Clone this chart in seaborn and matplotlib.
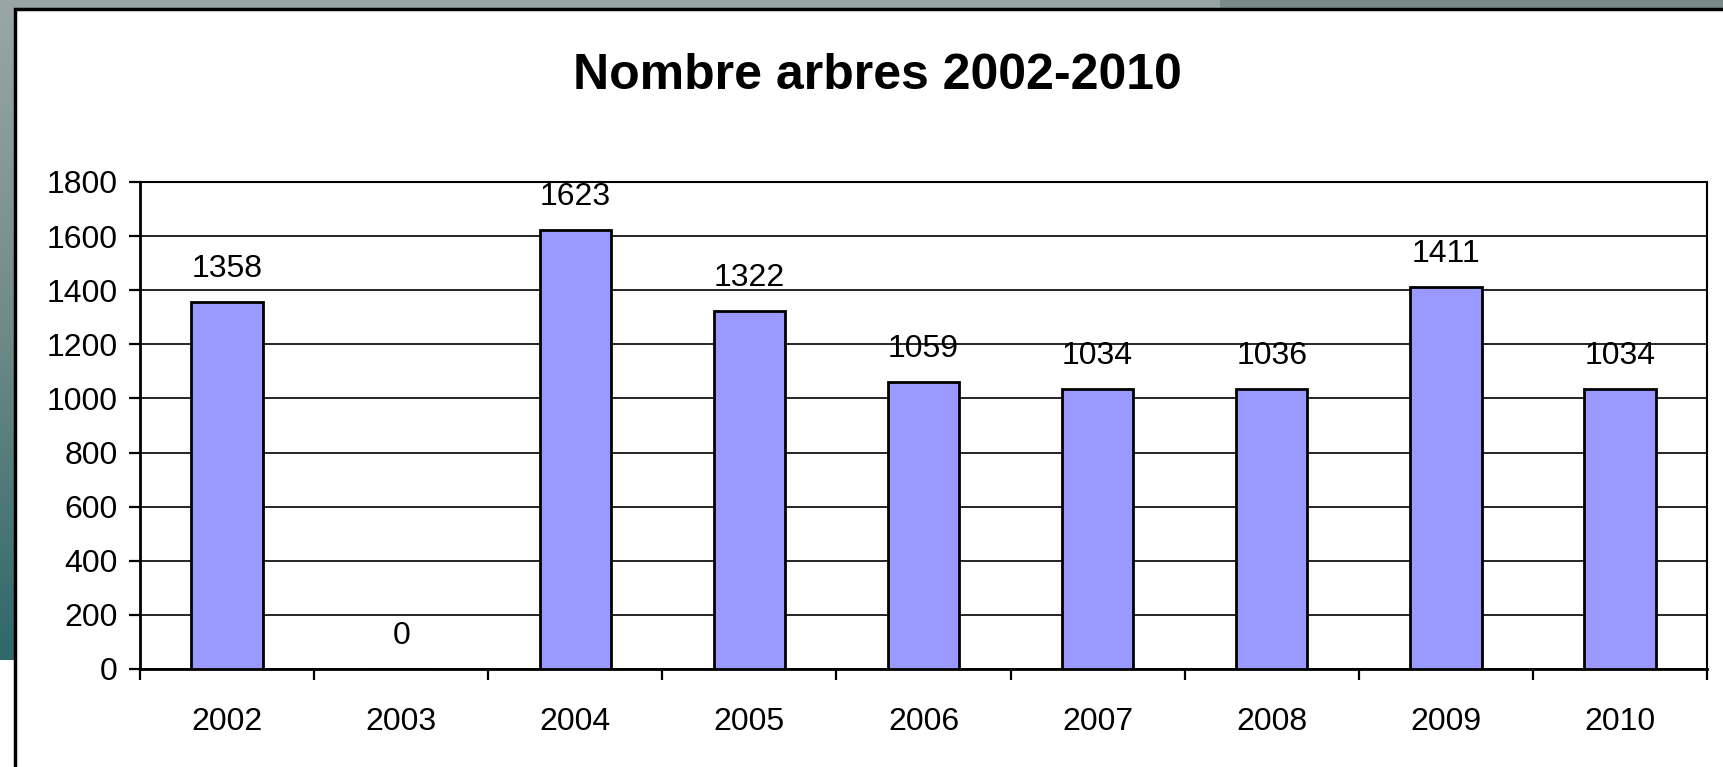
import matplotlib
matplotlib.use("Agg")
import matplotlib.pyplot as plt
import numpy as np
import pandas as pd
import seaborn as sns
from matplotlib.patches import Rectangle

YEARS = ["2002", "2003", "2004", "2005", "2006", "2007", "2008", "2009", "2010"]
TREES = [1358, 0, 1623, 1322, 1059, 1034, 1036, 1411, 1034]
Y_TICKS = list(range(0, 1801, 200))
TITLE = "Nombre arbres 2002-2010"

BAR_COLOR = "#9999ff"

sns.set_style("white")
plt.rcParams["font.family"] = ["Liberation Sans", "DejaVu Sans"]
plt.rcParams["text.color"] = "black"
plt.rcParams["xtick.color"] = "black"
plt.rcParams["ytick.color"] = "black"
plt.rcParams["xtick.labelcolor"] = "black"
plt.rcParams["ytick.labelcolor"] = "black"

df = pd.DataFrame({"year": YEARS, "trees": TREES})

fig = plt.figure(figsize=(17.24, 7.67), dpi=100)
fig.patch.set_facecolor("white")

# slide background: gradient strip on the left, grey band on top
bg = fig.add_axes([0, 0, 1, 1], zorder=-10)
bg.set_xlim(0, 1724)
bg.set_ylim(767, 0)
bg.axis("off")
grad = np.linspace(0, 1, 256).reshape(-1, 1)
cmap = matplotlib.colors.LinearSegmentedColormap.from_list(
    "slide", ["#9aa7a6", "#6f8a89", "#2e6868"]
)
bg.imshow(grad, extent=[0, 14, 660, 0], cmap=cmap, aspect="auto")
bg.add_patch(Rectangle((0, 0), 1724, 8, color="#97a5a4", lw=0))
bg.add_patch(Rectangle((1220, 0), 504, 8, color="#7a8a89", lw=0))
# chart area with black frame
bg.add_patch(Rectangle((15, 9), 1740, 800, facecolor="white",
                       edgecolor="black", lw=2.5))

ax = fig.add_axes([140 / 1724, 1 - 669 / 767, (1707 - 140) / 1724, (669 - 182) / 767])
sns.barplot(data=df, x="year", y="trees", color=BAR_COLOR, edgecolor="black",
            linewidth=2.0, width=0.41, saturation=1, ax=ax, zorder=3)

ax.set_ylim(0, 1800)
ax.set_xlim(-0.5, len(YEARS) - 0.5)
ax.set_yticks(Y_TICKS)
ax.yaxis.grid(True, color="black", linewidth=1.2, zorder=0)
ax.set_axisbelow(True)
ax.set_xlabel("")
ax.set_ylabel("")

for s in ["left", "bottom"]:
    ax.spines[s].set_linewidth(2.0)
    ax.spines[s].set_color("black")
for s in ["top", "right"]:
    ax.spines[s].set_linewidth(1.5)
    ax.spines[s].set_color("black")

ax.tick_params(axis="y", direction="out", length=8, width=1.6, pad=8,
               labelsize=23, left=True)
ax.set_xticks(range(len(YEARS)))
ax.set_xticklabels(YEARS)
ax.set_xticks(np.arange(-0.5, len(YEARS), 1.0), minor=True)
ax.tick_params(axis="x", which="major", length=0, pad=27, labelsize=23)
ax.tick_params(axis="x", which="minor", direction="out", length=8, width=1.6,
               bottom=True)

for i, v in enumerate(TREES):
    ax.annotate(str(v), xy=(i, v), xytext=(0, 13), textcoords="offset points",
                ha="center", va="bottom", fontsize=23, color="black")

fig.text(877 / 1724, 1 - 76 / 767, TITLE, ha="center", va="center",
         fontsize=36, fontweight="bold", color="black")

fig.savefig("out.png", dpi=100)
